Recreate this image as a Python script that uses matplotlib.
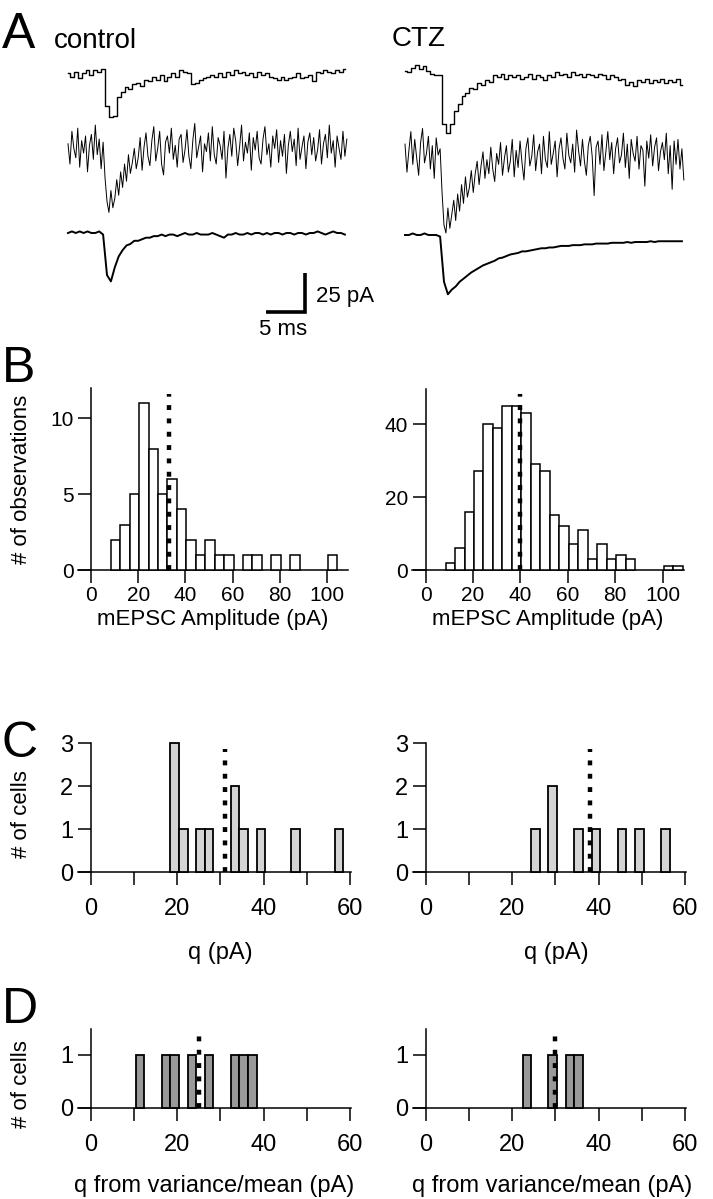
import numpy as np
import matplotlib
matplotlib.use("Agg")
import matplotlib.pyplot as plt

plt.rcParams['font.family'] = ['Liberation Sans', 'DejaVu Sans']

W, H = 713, 1199

# ---------------- data ----------------
# Panel A traces (pA), sampled every DT ms
DT_SINGLE = 0.5
DT_NOISY = 0.25
DT_AVG = 0.5

ctrl_single = [1, -1, 2, -2, 1, 3, 0, 3, 2, 4, -20, -27, -26, -14, -11, -8, -9, -6, -5, -7,
               -3, -4, -1, -3, 0, -4, -1, 1, -1, 3, 2, 1, -6, -5, -3, -2, -1, 0, -1, 1,
               -1, 2, 0, 3, 1, 2, 0, 1, -1, 2, 0, 1, -1, -2, -3, -1, -3, -2, -1, 1,
               -2, -1, 0, -4, 2, 1, 3, 2, 1, 3, 2, 4]
ctrl_noisy = [4, -9, 12, 1, -5, 14, -11, 6, -2, 9, -14, 3, 10, -6, 16, -3, 7, -12, 5,
              -18, -33, -40, -26, -37, -31, -19, -29, -14, -24, -9, -20, -3, -15, -8, 1, -12, -5,
              8, -13, 2, 11, -4, -10, 6, 15, -7, 1, 12, -9, -16, 5, 9, -2, 14, -6, 3, -11,
              7, 10, -8, 0, 13, -4, -12, 6, 17, -5, 2, 9, -14, 4, -1, 11, -7, 15, -3, -9,
              8, 3, -6, 12, -18, 1, 10, -4, 14, 6, -10, 2, 16, -7, 5, -2, 11, -13, 8, 0,
              12, -5, -9, 7, 15, -3, 4, -11, 9, 1, 13, -8, 6, -4, 10, -15, 3, 12, -1, 7,
              -10, 14, -6, 2, 9, -12, 5, 11, -3, 8, -7, 0, 13, -9, 4, 10, -5, 16, -2, 6,
              -11, 9, 1, -6, 12, -4, 7]
ctrl_avg = [0, 1, 0, 1, 0, 1, 0, 0, 1, -1, -27, -31, -22, -15, -11, -8, -7, -5, -5, -4,
            -3, -3, -2, -2, -1, -2, -1, -1, -2, -1, 0, -1, -1, 0, -1, -1, -1, 0, -1, -2,
            -3, -1, -1, 0, -1, -1, 0, -1, 0, 0, -1, 0, -1, 0, 0, -1, 0, 0, -1, 0,
            0, -1, 0, 0, 1, 0, -1, 0, 1, 0, 0, -1]
ctz_single = [4, 3, 6, 8, 5, 7, 4, 2, 1, 1, -30, -36, -30, -22, -17, -12, -10, -7, -8, -4,
              -5, -2, -3, 1, 0, 2, -1, 1, 0, 1, -1, 0, 2, -1, 1, 0, -2, 1, 0, 3,
              1, 2, 0, 3, 1, 2, 0, 2, 1, 0, 2, 1, -1, 1, 0, -2, -1, -5, -3, -6,
              -2, -3, -1, -4, -2, -3, -1, -4, -2, -3, -1, -5]
ctz_noisy = [7, -11, 3, 15, -6, 10, -2, -13, 8, 17, -5, 1, 12, -9, 6, -15, 11, 0, 4,
             -24, -45, -50, -34, -47, -38, -29, -42, -25, -36, -19, -31, -14, -27, -21, -10, -24, -12,
             -4, -19, -7, 2, -15, -3, -12, 5, -9, -17, 1, -6, 8, -13, -2, 6, -11, -4, 10, -14,
             3, -8, 9, -5, -16, 4, 11, -7, -1, 13, -10, 2, 7, -12, 12, -3, -8, 15, -6, 1,
             9, -14, 4, 11, -2, -9, 14, 0, -5, 7, -11, 16, 3, -7, 10, -4, -13, 6, 12, -1,
             -26, 5, 9, -6, 13, -10, 2, 15, -3, 8, -12, 4, 11, -5, 0, 14, -8, 7, -15, 10,
             1, -4, 12, -9, 6, 3, -20, 9, -2, 13, -7, 5, 11, -10, 2, 8, -3, 14, -12, 6,
             -22, 9, -6, 10, -9, 4, -16]
ctz_avg = [0, 0, 1, 0, 0, 1, 0, 0, 0, -1, -30, -38, -35, -33, -30, -28, -26, -24, -22.5, -21,
           -19.5, -18.5, -17.5, -16.5, -15, -14.5, -13.5, -12.5, -12, -11.5, -10.5, -10.5, -10, -9.5, -9, -8.5,
           -8.5, -8, -8, -7.5, -7, -7, -7, -6.5, -6.5, -6.5, -6, -6, -6, -5.5, -5.5, -5.5, -5.5, -5,
           -5, -5, -5, -4.5, -5, -4.5, -4.5, -4.5, -4.5, -4, -4.5, -4, -4, -4, -4, -4, -4, -4]

SCALE_PA = 25
SCALE_MS = 5

# Panel B: mEPSC amplitude histograms (bin width 4 pA)
B_BIN_START = 8.4
B_BIN_WIDTH = 4
b_ctrl_counts = [2, 3, 5, 11, 8, 5, 6, 4, 2, 1, 2, 1, 1, 0, 1, 1, 0, 1, 0, 1, 0, 0, 0, 1]
b_ctz_counts = [2, 6, 16, 27, 40, 39, 45, 45, 43, 29, 27, 15, 12, 7, 11, 3, 7, 3, 4, 3, 0, 0, 0, 1, 1]
b_ctrl_mean = 33
b_ctz_mean = 40

# Panel C: q per cell (bin width 2 pA)
C_BIN_WIDTH = 2
c_ctrl_edges = [18.4, 20.4, 24.4, 26.4, 32.4, 34.4, 38.4, 46.4, 56.4]
c_ctrl_counts = [3, 1, 1, 1, 2, 1, 1, 1, 1]
c_ctz_edges = [24.4, 28.4, 34.4, 38.4, 44.4, 48.4, 54.4]
c_ctz_counts = [1, 2, 1, 1, 1, 1, 1]
c_ctrl_mean = 31
c_ctz_mean = 38

# Panel D: q from variance/mean
d_ctrl_edges = [10.4, 16.4, 18.4, 22.4, 26.4, 32.4, 34.4, 36.4]
d_ctrl_counts = [1, 1, 1, 1, 1, 1, 1, 1]
d_ctz_edges = [22.4, 28.4, 32.4, 34.4]
d_ctz_counts = [1, 1, 1, 1]
d_ctrl_mean = 25
d_ctz_mean = 29.8

B_XTICKS = [0, 20, 40, 60, 80, 100]
CD_XTICKS = [0, 20, 40, 60]

# ---------------- layout helpers ----------------
def fx(px):
    return px / W


def fy(py):
    return 1 - py / H


def add_axes_px(x0, ytop, x1, ybot):
    return fig.add_axes([fx(x0), fy(ybot), (x1 - x0) / W, (ybot - ytop) / H])


fig = plt.figure(figsize=(W / 100, H / 100), dpi=100)

# ---------------- Panel A ----------------
PX_PER_MS = 7.8
PX_PER_PA = 1.56
axA = add_axes_px(0, 0, W, 345)
axA.set_xlim(-68 / PX_PER_MS, (W - 68) / PX_PER_MS)
axA.set_ylim(-345 / PX_PER_PA, 0)
axA.axis('off')

right_off = (405 - 68) / PX_PER_MS
traces = [
    (ctrl_single, DT_SINGLE, 0, 75, 1.0, 'steps-mid'),
    (ctrl_noisy, DT_NOISY, 0, 150, 0.7, 'default'),
    (ctrl_avg, DT_AVG, 0, 233, 1.4, 'default'),
    (ctz_single, DT_SINGLE, right_off, 77, 1.0, 'steps-mid'),
    (ctz_noisy, DT_NOISY, right_off, 155, 0.7, 'default'),
    (ctz_avg, DT_AVG, right_off, 235, 1.4, 'default'),
]
for vals, dt, xo, base_px, lw, ds in traces:
    v = np.asarray(vals, dtype=float)
    t = np.arange(len(v)) * dt + xo
    axA.plot(t, v - base_px / PX_PER_PA, color='black', lw=lw, drawstyle=ds)

# scale bar
cx = (305 - 68) / PX_PER_MS
cy = -312 / PX_PER_PA
axA.plot([cx - SCALE_MS, cx, cx], [cy, cy, cy + SCALE_PA], color='black', lw=2.6,
         solid_joinstyle='miter', solid_capstyle='butt')
axA.text(cx + 1.4, cy + SCALE_PA * 0.4, f'{SCALE_PA} pA', fontsize=16, va='center', ha='left')
axA.text(cx - SCALE_MS / 2 - 0.3, cy - 11, f'{SCALE_MS} ms', fontsize=16, va='center', ha='center')

fig.text(fx(2), fy(48), 'A', fontsize=36, va='baseline', ha='left')
fig.text(fx(54), fy(48), 'control', fontsize=20, va='baseline', ha='left')
fig.text(fx(392), fy(46), 'CTZ', fontsize=20, va='baseline', ha='left')


# ---------------- histogram axes styling ----------------
def style_axes(ax, xlim, ylim, xticks, yticks, fs, xpad):
    ax.set_xlim(*xlim)
    ax.set_ylim(*ylim)
    for s in ['top', 'right']:
        ax.spines[s].set_visible(False)
    ax.spines['left'].set_position(('data', 0))
    ax.spines['left'].set_linewidth(1.1)
    ax.spines['bottom'].set_linewidth(1.1)
    ax.set_xticks(xticks)
    ax.set_yticks(yticks)
    ax.tick_params(direction='out', length=9.5, width=1.1, labelsize=fs, pad=3)
    ax.tick_params(axis='x', pad=xpad)
    ax.patch.set_alpha(0)


def dotted(ax, x, top):
    ax.plot([x, x], [0, top], color='black', lw=3.2, linestyle=(0, (1.1, 1.9)),
            dash_capstyle='butt', clip_on=False, zorder=5)


# ---------------- Panel B ----------------
axB1 = add_axes_px(77.8, 388, 348.2, 570)
axB2 = add_axes_px(412.4, 389, 684.0, 570)
for ax, counts, mean, ylim, yt, dtop in [
        (axB1, b_ctrl_counts, b_ctrl_mean, (0, 12), [0, 5, 10], 11.6),
        (axB2, b_ctz_counts, b_ctz_mean, (0, 49.6), [0, 20, 40], 48.2)]:
    c = np.asarray(counts)
    edges = B_BIN_START + np.arange(len(c)) * B_BIN_WIDTH
    m = c > 0
    ax.bar(edges[m], c[m], width=B_BIN_WIDTH, align='edge', color='white',
           edgecolor='black', linewidth=1.1, clip_on=False, zorder=3)
    style_axes(ax, (-5.6, 109), ylim, B_XTICKS, yt, 15, 2)
    dotted(ax, mean, dtop)

fig.text(fx(213), fy(620), 'mEPSC Amplitude (pA)', fontsize=16, ha='center', va='center')
fig.text(fx(548), fy(620), 'mEPSC Amplitude (pA)', fontsize=16, ha='center', va='center')
fig.text(fx(22), fy(479), '# of observations', fontsize=16, rotation=90, ha='center', va='center')
fig.text(fx(2), fy(382), 'B', fontsize=36, va='baseline', ha='left')

# ---------------- Panel C ----------------
axC1 = add_axes_px(77.7, 743.3, 350.5, 872.3)
axC2 = add_axes_px(412.7, 743.3, 685.5, 872.3)
for ax, e, cnt, mean in [(axC1, c_ctrl_edges, c_ctrl_counts, c_ctrl_mean),
                         (axC2, c_ctz_edges, c_ctz_counts, c_ctz_mean)]:
    ax.bar(e, cnt, width=C_BIN_WIDTH, align='edge', color='#d4d4d4',
           edgecolor='black', linewidth=1.3, clip_on=False, zorder=3)
    style_axes(ax, (-3, 60.1), (0, 3), CD_XTICKS, [0, 1, 2, 3], 17, 9)
    ax.set_xticks([10, 30, 50], minor=True)
    ax.tick_params(which='minor', direction='out', length=9.5, width=1.1)
    dotted(ax, mean, 2.86)

fig.text(fx(220), fy(953), 'q (pA)', fontsize=17, ha='center', va='center')
fig.text(fx(556), fy(953), 'q (pA)', fontsize=17, ha='center', va='center')
fig.text(fx(22), fy(814), '# of cells', fontsize=16, rotation=90, ha='center', va='center')
fig.text(fx(2), fy(757), 'C', fontsize=36, va='baseline', ha='left')

# ---------------- Panel D ----------------
axD1 = add_axes_px(77.7, 1029, 350.5, 1108)
axD2 = add_axes_px(412.7, 1029, 685.5, 1108)
for ax, e, cnt, mean in [(axD1, d_ctrl_edges, d_ctrl_counts, d_ctrl_mean),
                         (axD2, d_ctz_edges, d_ctz_counts, d_ctz_mean)]:
    ax.bar(e, cnt, width=C_BIN_WIDTH, align='edge', color='#999999',
           edgecolor='black', linewidth=1.3, clip_on=False, zorder=3)
    style_axes(ax, (-3, 60.1), (0, 1.48), CD_XTICKS, [0, 1], 17, 9)
    ax.set_xticks([10, 30, 50], minor=True)
    ax.tick_params(which='minor', direction='out', length=9.5, width=1.1)
    dotted(ax, mean, 1.37)

fig.text(fx(214), fy(1186), 'q from variance/mean (pA)', fontsize=17, ha='center', va='center')
fig.text(fx(552), fy(1186), 'q from variance/mean (pA)', fontsize=17, ha='center', va='center')
fig.text(fx(22), fy(1084), '# of cells', fontsize=16, rotation=90, ha='center', va='center')
fig.text(fx(2), fy(1023), 'D', fontsize=36, va='baseline', ha='left')

fig.savefig('out.png', dpi=100)
